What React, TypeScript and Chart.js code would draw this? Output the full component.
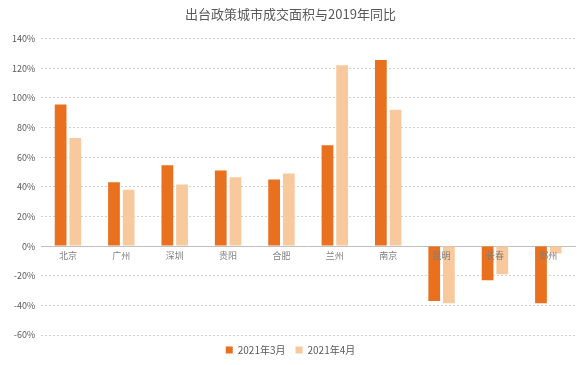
import React, { useEffect, useRef } from "react";
import { Chart, registerables } from "chart.js";

Chart.register(...registerables);

const cities = ["北京", "广州", "深圳", "贵阳", "合肥", "兰州", "南京", "昆明", "长春", "郑州"];
const march2021 = [95.5, 43, 54.5, 51, 45, 68, 125.5, -37, -23, -38.5];
const april2021 = [73, 38, 41.5, 46.5, 49, 122, 92, -38.5, -19, -5];
const seriesNames = ["2021年3月", "2021年4月"];
const titleText = "出台政策城市成交面积与2019年同比";

export default function App() {
  const ref = useRef<HTMLCanvasElement | null>(null);
  useEffect(() => {
    if (!ref.current) return;
    const font = "'Noto Sans CJK SC', 'Noto Sans', sans-serif";
    const chart = new Chart(ref.current, {
      type: "bar",
      data: {
        labels: cities,
        datasets: [
          { label: seriesNames[0], data: march2021, backgroundColor: "#E8701E" },
          { label: seriesNames[1], data: april2021, backgroundColor: "#F7C99C" },
        ],
      },
      options: {
        animation: false,
        responsive: false,
        maintainAspectRatio: false,
        datasets: { bar: { categoryPercentage: 0.55, barPercentage: 0.8 } },
        layout: { padding: { left: 6, right: 4, top: 0, bottom: 0 } },
        plugins: {
          title: {
            display: true,
            text: titleText,
            color: "#595959",
            font: { family: font, size: 13, weight: "normal" },
            padding: { top: 6, bottom: 17 },
          },
          legend: {
            position: "bottom",
            labels: {
              color: "#595959",
              font: { family: font, size: 10 },
              boxWidth: 7,
              boxHeight: 7,
              padding: 10,
            },
          },
          tooltip: { enabled: false },
        },
        scales: {
          x: {
            position: { y: 0 } as any,
            grid: { display: false, drawTicks: false },
            border: { display: true, color: "#BFBFBF", width: 1 },
            ticks: { z: 1, color: "#7F7F7F", font: { family: font, size: 9 }, padding: 4 },
          },
          y: {
            min: -60,
            max: 140,
            grid: { color: "#D0D0D0", drawTicks: false, lineWidth: 1 },
            border: { display: false, dash: [2, 2] },
            ticks: {
              stepSize: 20,
              color: "#595959",
              padding: 6,
              font: { family: font, size: 9 },
              callback: (v: any) => v + "%",
            },
          },
        },
      },
    });
    return () => chart.destroy();
  }, []);
  return (
    <div style={{ position: "fixed", left: 0, top: 0, width: 579, height: 365, background: "#fff" }}>
      <canvas ref={ref} width={579} height={365} style={{ width: 579, height: 365 }} />
    </div>
  );
}
